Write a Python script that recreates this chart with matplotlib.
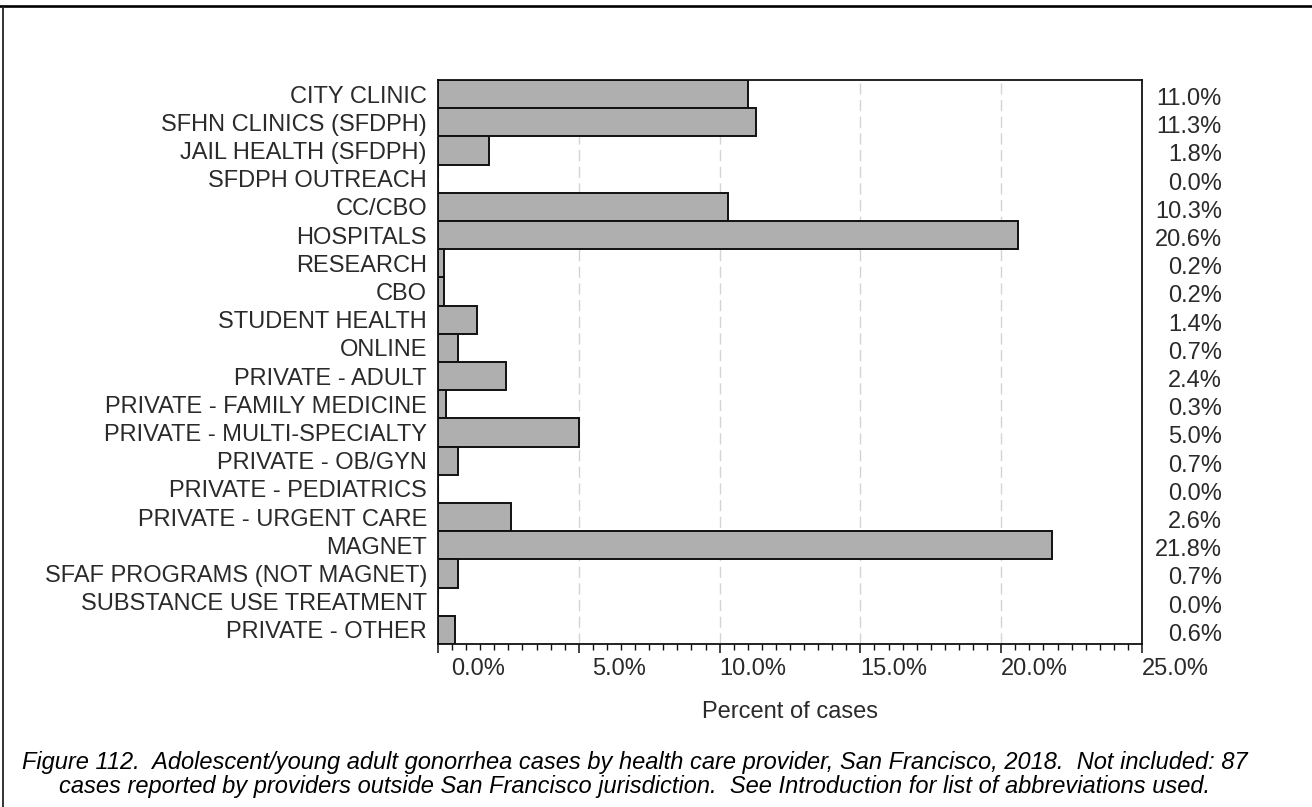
import matplotlib
matplotlib.use("Agg")
import matplotlib.pyplot as plt
from matplotlib.ticker import MultipleLocator, FuncFormatter
from matplotlib.transforms import ScaledTranslation, blended_transform_factory
from matplotlib.lines import Line2D

categories = [
    "CITY CLINIC",
    "SFHN CLINICS (SFDPH)",
    "JAIL HEALTH (SFDPH)",
    "SFDPH OUTREACH",
    "CC/CBO",
    "HOSPITALS",
    "RESEARCH",
    "CBO",
    "STUDENT HEALTH",
    "ONLINE",
    "PRIVATE - ADULT",
    "PRIVATE - FAMILY MEDICINE",
    "PRIVATE - MULTI-SPECIALTY",
    "PRIVATE - OB/GYN",
    "PRIVATE - PEDIATRICS",
    "PRIVATE - URGENT CARE",
    "MAGNET",
    "SFAF PROGRAMS (NOT MAGNET)",
    "SUBSTANCE USE TREATMENT",
    "PRIVATE - OTHER",
]
percents = [11.0, 11.3, 1.8, 0.0, 10.3, 20.6, 0.2, 0.2, 1.4, 0.7,
            2.4, 0.3, 5.0, 0.7, 0.0, 2.6, 21.8, 0.7, 0.0, 0.6]
x_ticks = [0, 5, 10, 15, 20, 25]
x_label = "Percent of cases"
caption_lines = [
    "Figure 112.  Adolescent/young adult gonorrhea cases by health care provider, San Francisco, 2018.  Not included: 87",
    "cases reported by providers outside San Francisco jurisdiction.  See Introduction for list of abbreviations used.",
]

plt.rcParams['font.family'] = ['Liberation Sans', 'DejaVu Sans']

W, H, DPI = 1312, 807, 100
FS = 17
TXT = '#2a2a2a'
fig = plt.figure(figsize=(W / DPI, H / DPI), dpi=DPI)
fig.patch.set_facecolor('white')

ax_l, ax_r, ax_t, ax_b = 438, 1142, 80, 644
ax = fig.add_axes([ax_l / W, 1 - ax_b / H, (ax_r - ax_l) / W, (ax_b - ax_t) / H])

ypos = list(range(len(categories)))
ax.barh(ypos, percents, height=1.0, color='#afafaf', edgecolor='#111111',
        linewidth=1.4, zorder=3)

ax.set_ylim(len(categories) - 0.5, -0.5)
ax.set_xlim(0, 25)

# y axis labels
ax.set_yticks(ypos)
ax.set_yticklabels(categories, fontsize=FS, color=TXT)
ax.tick_params(axis='y', length=0, pad=8)

# x axis ticks
ax.xaxis.set_major_locator(MultipleLocator(5))
ax.xaxis.set_minor_locator(MultipleLocator(0.5))
ax.xaxis.set_major_formatter(FuncFormatter(lambda v, p: f"{v:.1f}%"))
ax.tick_params(axis='x', which='major', length=6.5, width=1.1, pad=3.8,
               labelsize=FS, labelcolor=TXT, color='#111111')
ax.tick_params(axis='x', which='minor', length=4.3, width=1.0, color='#111111')
ax.set_xticks(x_ticks)
off = ScaledTranslation(67 / DPI, 0, fig.dpi_scale_trans)
for lab in ax.get_xticklabels():
    lab.set_horizontalalignment('right')
    lab.set_transform(lab.get_transform() + off)

ax.grid(axis='x', which='major', linestyle=(0, (8, 4)), color='#d4d4d4',
        linewidth=1.0, zorder=0)
ax.set_axisbelow(True)

for s in ax.spines.values():
    s.set_linewidth(1.3)
    s.set_color('#111111')
    s.set_zorder(4)

ax.set_xlabel(x_label, fontsize=FS, color=TXT, va='center')
ax.xaxis.set_label_coords(0.5, (ax_b - 712) / (ax_b - ax_t))

# value labels at right
trans = blended_transform_factory(ax.transAxes, ax.transData) + \
    ScaledTranslation(0, -5 / DPI, fig.dpi_scale_trans)
x_val = (1222 - ax_l) / (ax_r - ax_l)
for y, v in zip(ypos, percents):
    ax.text(x_val, y, f"{v:.1f}%", transform=trans, ha='right', va='center',
            fontsize=FS, color=TXT, clip_on=False)

# caption
cap_y = [763, 786]
for line, yy in zip(caption_lines, cap_y):
    fig.text(635 / W, 1 - yy / H, line, ha='center', va='center',
             fontsize=17, style='italic', color='black')

# frame lines
fig.add_artist(Line2D([0, 1], [1 - 6 / H, 1 - 6 / H], transform=fig.transFigure,
                      color='black', linewidth=1.9))
fig.add_artist(Line2D([3 / W, 3 / W], [0, 1 - 6 / H], transform=fig.transFigure,
                      color='#222222', linewidth=1.3))

fig.savefig("out.png", dpi=DPI, facecolor='white')
